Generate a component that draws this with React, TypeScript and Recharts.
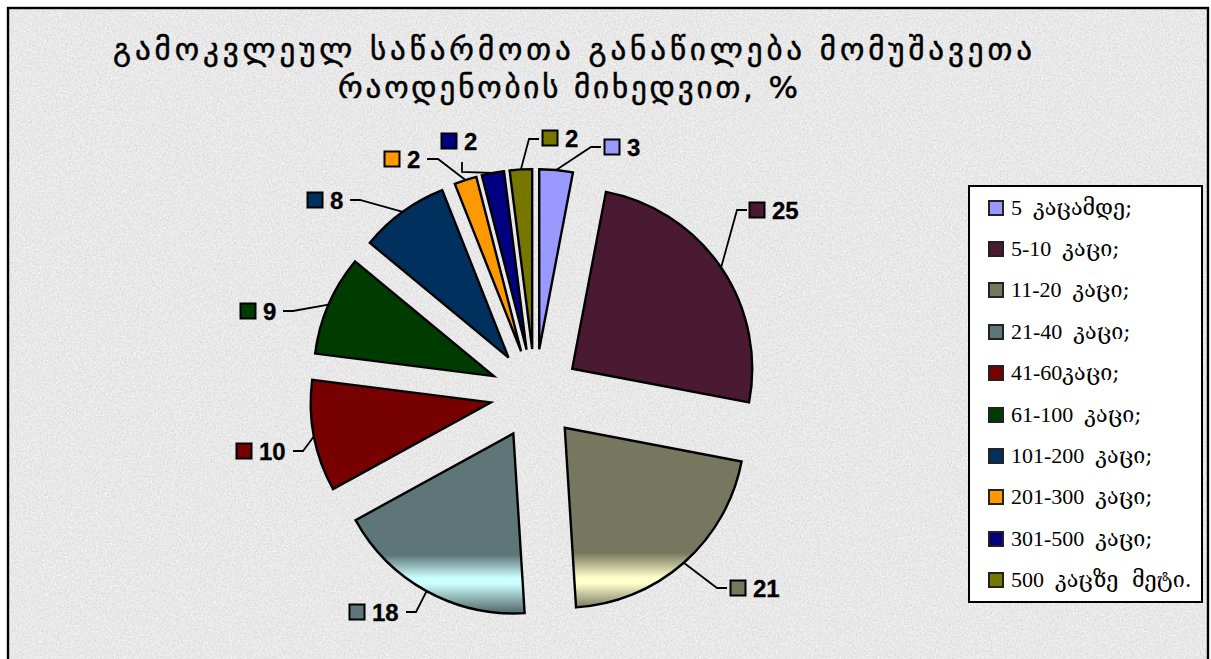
import React from "react";
import { PieChart, Pie, Cell, Sector, Legend } from "recharts";

const CATEGORIES = [
  "5  კაცამდე;",
  "5-10  კაცი;",
  "11-20  კაცი;",
  "21-40  კაცი;",
  "41-60კაცი;",
  "61-100  კაცი;",
  "101-200  კაცი;",
  "201-300  კაცი;",
  "301-500  კაცი;",
  "500  კაცზე  მეტი.",
];
const VALUES = [3, 25, 21, 18, 10, 9, 8, 2, 2, 2];
const TITLE_LINES = [
  "გამოკვლეულ საწარმოთა განაწილება მომუშავეთა",
  "რაოდენობის მიხედვით, %",
];

const COLORS = ["#9999ff", "#4a1a32", "#777760", "#5f7678", "#770000", "#003c00", "#00305e", "#ff9900", "#000080", "#777700"];
const SLICE_FILLS = [COLORS[0], COLORS[1], "url(#band21)", "url(#band18)", ...COLORS.slice(4)];

const WIDTH = 1211;
const HEIGHT = 659;
const EXPLODE = 45;
const RADIUS = 180;
const RAD = Math.PI / 180;

// where each value tag sits, and the bends of its leader line
const TAGS = [
  { x: 612, y: 147, bends: [[591, 147], [601, 147]] },
  { x: 757, y: 210, bends: [[737, 210], [747, 210]] },
  { x: 738, y: 588, bends: [[717, 588], [727, 588]] },
  { x: 357, y: 612, bends: [[416, 612], [406, 612]] },
  { x: 244, y: 451, bends: [[303, 451], [293, 451]] },
  { x: 248, y: 311, bends: [[293, 311], [283, 311]] },
  { x: 315, y: 200, bends: [[360, 200], [350, 200]] },
  { x: 392, y: 159, bends: [[438, 159], [427, 159]] },
  { x: 449, y: 141, bends: [[462, 172], [462, 162]] },
  { x: 550, y: 138, bends: [[529, 139], [539, 139]] },
];

const DATA = CATEGORIES.map((name, i) => ({ name, value: VALUES[i] }));

function ExplodedSlice(props: any) {
  const dx = EXPLODE * Math.cos(-props.midAngle * RAD);
  const dy = EXPLODE * Math.sin(-props.midAngle * RAD);
  return <Sector {...props} cx={props.cx + dx} cy={props.cy + dy} />;
}

function ValueTag(props: any) {
  const { cx, cy, midAngle, outerRadius, index, value } = props;
  const tag = TAGS[index];
  const r = outerRadius + EXPLODE;
  const sx = cx + r * Math.cos(-midAngle * RAD);
  const sy = cy + r * Math.sin(-midAngle * RAD);
  const points = [[sx, sy], ...tag.bends].map((p) => p.join(",")).join(" ");
  return (
    <g>
      <polyline points={points} fill="none" stroke="#000" strokeWidth={1.8} />
      <rect x={tag.x - 7.5} y={tag.y - 7.5} width={15} height={15} fill={COLORS[index]} stroke="#000" strokeWidth={2} />
      <text
        x={tag.x + 15}
        y={tag.y + 9}
        fontFamily="'Liberation Sans', Arial, sans-serif"
        fontWeight={700}
        fontSize={24}
        fill="#000"
        stroke="#000"
        strokeWidth={0.3}
      >
        {value}
      </text>
    </g>
  );
}

function LegendText({ text }: { text: string }) {
  // digits stay in the serif face, the Georgian part runs larger as in the source
  const cut = text.search(/[\u10A0-\u10FF]/);
  return (
    <span style={{ whiteSpace: "pre" }}>
      <span style={{ fontFamily: "'Liberation Serif', serif", fontSize: 22 }}>{text.slice(0, cut)}</span>
      <span style={{ fontFamily: "'DejaVu Serif', 'DejaVu Sans', serif", fontSize: 21.5 }}>{text.slice(cut)}</span>
    </span>
  );
}

function LegendBox({ payload }: any) {
  return (
    <div
      style={{
        boxSizing: "border-box",
        width: 235,
        height: 418,
        background: "#fff",
        border: "2px solid #000",
        padding: "0 0 0 18px",
      }}
    >
      {(payload || []).map((entry: any, i: number) => (
        <div
          key={i}
          style={{
            height: 41.4,
            display: "flex",
            alignItems: "center",
            color: "#000",
            whiteSpace: "pre",
          }}
        >
          <span
            style={{
              display: "inline-block",
              boxSizing: "border-box",
              flex: "none",
              width: 16,
              height: 16,
              marginRight: 7,
              background: COLORS[i],
              border: "2px solid #222",
            }}
          />
          <LegendText text={entry.value} />
        </div>
      ))}
    </div>
  );
}

function Backdrop() {
  return (
    <svg width={WIDTH} height={HEIGHT} style={{ position: "absolute", left: 0, top: 0 }}>
      <defs>
        <filter id="paper" x="0" y="0" width="100%" height="100%" colorInterpolationFilters="sRGB">
          <feTurbulence type="fractalNoise" baseFrequency="0.55" numOctaves={3} seed={4} />
          <feColorMatrix
            type="matrix"
            values="0.11 0.11 0 0 0.8  0.11 0.11 0 0 0.8  0.11 0.11 0 0 0.8  0 0 0 0 1"
          />
        </filter>
        <pattern id="crosses" x="33" y="15" width="51" height="90" patternUnits="userSpaceOnUse">
          <path d="M0 4H7M3.5 0V11" stroke="#f0e2d4" strokeWidth={2} opacity={0.45} fill="none" />
        </pattern>
      </defs>
      <rect x={0} y={0} width={WIDTH} height={HEIGHT} fill="#fff" />
      <rect x={8} y={8} width={1200} height={HEIGHT} filter="url(#paper)" />
      <rect x={8} y={8} width={1200} height={HEIGHT} fill="url(#crosses)" />
      <rect x={8} y={8} width={1200} height={HEIGHT + 10} fill="none" stroke="#000" strokeWidth={2.4} />
      {TITLE_LINES.map((line, i) => (
        <text
          key={i}
          x={i === 0 ? 113 : 338}
          y={i === 0 ? 60 : 98}
          textLength={i === 0 ? 919 : 460}
          lengthAdjust="spacing"
          fontFamily="'DejaVu Sans', sans-serif"
          fontSize={31}
          fill="#000"
          stroke="#000"
          strokeWidth={0.5}
          style={{ whiteSpace: "pre" }}
        >
          {line}
        </text>
      ))}
    </svg>
  );
}

export default function App() {
  return (
    <div style={{ position: "fixed", left: 0, top: 0, width: WIDTH, height: HEIGHT, overflow: "hidden" }}>
      <Backdrop />
      <div style={{ position: "absolute", left: 0, top: 0 }}>
        <PieChart width={WIDTH} height={HEIGHT} margin={{ top: 0, right: 0, bottom: 0, left: 0 }}>
          <defs>
            <linearGradient id="band21" gradientUnits="userSpaceOnUse" x1="0" y1="553" x2="0" y2="608">
              <stop offset="0" stopColor="#777760" />
              <stop offset="0.45" stopColor="#ffffcc" />
              <stop offset="0.55" stopColor="#ffffcc" />
              <stop offset="1" stopColor="#777760" />
            </linearGradient>
            <linearGradient id="band18" gradientUnits="userSpaceOnUse" x1="0" y1="555" x2="0" y2="610">
              <stop offset="0" stopColor="#5f7678" />
              <stop offset="0.42" stopColor="#ccffff" />
              <stop offset="0.52" stopColor="#ccffff" />
              <stop offset="1" stopColor="#5f7678" />
            </linearGradient>
          </defs>
          <Pie
            data={DATA}
            dataKey="value"
            nameKey="name"
            cx={535}
            cy={394}
            outerRadius={RADIUS}
            startAngle={90}
            endAngle={-270}
            stroke="#000"
            strokeWidth={2.4}
            shape={ExplodedSlice}
            label={ValueTag}
            labelLine={false}
            isAnimationActive={false}
          >
            {DATA.map((_, i) => (
              <Cell key={i} fill={SLICE_FILLS[i]} />
            ))}
          </Pie>
          <Legend
            content={<LegendBox />}
            itemSorter={null}
            wrapperStyle={{ position: "absolute", left: 968, top: 185, width: 235, bottom: "auto", right: "auto" }}
          />
        </PieChart>
      </div>
    </div>
  );
}
